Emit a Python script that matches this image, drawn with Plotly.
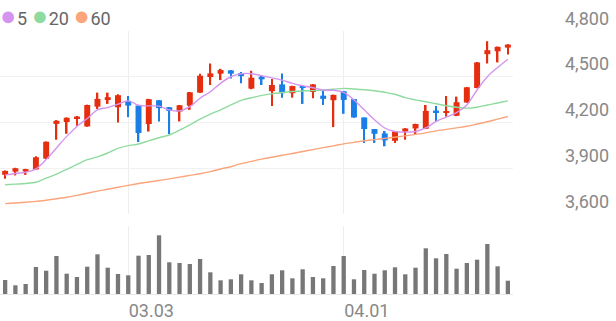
import plotly.graph_objects as go

dates = ["02.13","02.14","02.17","02.18","02.19","02.20","02.21","02.24","02.25","02.26",
         "02.27","02.28","03.03","03.04","03.05","03.06","03.07","03.10","03.11","03.12",
         "03.13","03.14","03.17","03.18","03.19","03.20","03.21","03.24","03.25","03.26",
         "03.27","03.28","03.31","04.01","04.02","04.03","04.04","04.07","04.08","04.09",
         "04.10","04.11","04.14","04.15","04.16","04.17","04.18","04.21","04.22","04.23"]

opens = [3857,3878,3879,3892,3963,4191,4203,4226,4174,4304,
         4353,4300,4342,4311,4190,4346,4300,4272,4311,4396,
         4498,4520,4542,4524,4422,4500,4405,4450,4392,4439,
         4400,4376,4346,4405,4353,4233,4157,4128,4080,4141,
         4161,4159,4278,4263,4244,4331,4426,4648,4667,4691]
closes = [3883,3900,3894,3972,4074,4211,4231,4239,4315,4355,
          4366,4379,4311,4131,4353,4294,4276,4313,4398,4507,
          4522,4544,4520,4504,4494,4483,4446,4392,4439,4431,
          4450,4355,4381,4348,4233,4157,4126,4083,4141,4161,
          4190,4276,4265,4272,4333,4431,4594,4674,4696,4711]
highs = [3885,3903,3896,3978,4076,4216,4233,4242,4317,4396,
         4396,4385,4374,4311,4355,4348,4302,4315,4400,4520,
         4587,4552,4544,4531,4539,4505,4485,4522,4441,4441,
         4452,4413,4383,4407,4353,4233,4157,4144,4143,4163,
         4192,4315,4309,4374,4370,4433,4596,4733,4698,4713]
lows = [3831,3853,3857,3890,3961,4087,4126,4179,4172,4289,
        4322,4200,4235,4072,4141,4207,4124,4207,4283,4394,
        4446,4478,4489,4457,4418,4446,4309,4363,4363,4322,
        4359,4315,4170,4257,4231,4066,4066,4044,4066,4087,
        4124,4157,4207,4239,4242,4329,4424,4587,4594,4646]

ma5 = [3855,3866,3874,3896,3957,4033,4109,4174,4226,4283,
       4298,4320,4342,4313,4309,4307,4283,4276,4304,4359,
       4402,4457,4500,4520,4520,4507,4493,4478,4457,4441,
       4428,4413,4411,4398,4348,4283,4218,4164,4141,4137,
       4141,4164,4207,4235,4265,4315,4413,4500,4561,4615]
ma20 = [3792,3796,3800,3808,3835,3862,3892,3925,3956,3975,
        4000,4030,4048,4059,4080,4100,4118,4150,4185,4222,
        4255,4283,4315,4345,4362,4378,4388,4397,4403,4407,
        4409,4413,4418,4424,4420,4415,4408,4398,4385,4363,
        4348,4336,4323,4310,4300,4294,4300,4315,4328,4342]
ma60 = [3668,3672,3677,3683,3690,3700,3710,3722,3736,3750,
        3762,3775,3788,3800,3810,3820,3830,3842,3853,3864,
        3878,3895,3910,3930,3945,3960,3972,3985,3997,4010,
        4022,4035,4047,4060,4070,4080,4088,4096,4104,4112,
        4122,4132,4145,4155,4165,4175,4190,4205,4222,4239]

volumes = [140,87,100,270,233,380,203,170,273,397,
           263,200,187,383,390,587,317,310,300,350,
           217,137,147,197,137,110,197,237,157,247,
           170,157,280,380,147,240,203,237,267,197,
           263,457,357,400,253,310,343,500,277,133]

price_ticks = [3600, 3900, 4200, 4500, 4800]
date_ticks = ["03.03", "04.01"]
legend_labels = ["5", "20", "60"]

UP = "#e52e10"
DOWN = "#1b7de6"
C5, C20, C60 = "#d494ef", "#8fdb9f", "#fba57c"

colors = [UP if c >= o else DOWN for o, c in zip(opens, closes)]
body_base = [min(o, c) for o, c in zip(opens, closes)]
body_h = [max(abs(c - o), 3) for o, c in zip(opens, closes)]
wick_h = [h - l for h, l in zip(highs, lows)]

fig = go.Figure()
fig.add_trace(go.Bar(x=dates, y=wick_h, base=lows, width=0.16, marker=dict(color=colors, line=dict(width=0)),
                     xaxis="x", yaxis="y", hoverinfo="skip"))
fig.add_trace(go.Bar(x=dates, y=body_h, base=body_base, width=0.58, marker=dict(color=colors, line=dict(width=0)),
                     xaxis="x", yaxis="y", hoverinfo="skip"))
fig.add_trace(go.Scatter(x=dates, y=ma60, mode="lines", line=dict(color=C60, width=1.4, shape="spline"), xaxis="x", yaxis="y"))
fig.add_trace(go.Scatter(x=dates, y=ma20, mode="lines", line=dict(color=C20, width=1.4, shape="spline"), xaxis="x", yaxis="y"))
fig.add_trace(go.Scatter(x=dates, y=ma5, mode="lines", line=dict(color=C5, width=1.4, shape="spline"), xaxis="x", yaxis="y"))
fig.add_trace(go.Bar(x=dates, y=volumes, width=0.42, marker=dict(color="#777777", line=dict(width=0)),
                     xaxis="x2", yaxis="y2"))

T, B = 31, 27
H = 321 - T - B
top_main = 1.0
bot_main = (294 - 214) / H
vol_top = (294 - 226) / H

dot = "<span style='font-size:27px;color:{}'>●</span>"
legend_text = " ".join(dot.format(c) + "<span style='font-size:3px'> </span>" + lab
                       for c, lab in zip([C5, C20, C60], legend_labels))

fig.update_layout(
    width=616, height=321,
    margin=dict(l=0, r=103, t=T, b=B),
    paper_bgcolor="white", plot_bgcolor="white",
    barmode="overlay", showlegend=False,
    font=dict(family="Roboto, sans-serif", color="#888888"),
    xaxis=dict(type="category", categoryorder="array", categoryarray=dates, range=[-0.5, 49.5],
               anchor="y", domain=[0, 1], tickmode="array", tickvals=date_ticks,
               showticklabels=False, showgrid=True, gridcolor="#eeeeee", gridwidth=1,
               zeroline=False, showline=False, ticks=""),
    xaxis2=dict(type="category", categoryorder="array", categoryarray=dates, range=[-0.5, 49.5],
                anchor="y2", matches="x", domain=[0, 1], tickmode="array", tickvals=date_ticks,
                ticktext=date_ticks, ticklabelposition="outside right",
                tickfont=dict(size=18, color="#888888"),
                showgrid=True, gridcolor="#eeeeee", gridwidth=1,
                zeroline=False, showline=True, linecolor="#e8e8e8", linewidth=1, ticks=""),
    yaxis=dict(domain=[bot_main, top_main], range=[3600, 4800], side="right",
               tickmode="array", tickvals=price_ticks, tickformat=",d",
               ticklabelposition="outside top", ticklabelstandoff=51, ticklabelshift=0,
               tickfont=dict(size=18, color="#888888"),
               showgrid=True, gridcolor="#f1f1f1", gridwidth=1, zeroline=False, showline=False, ticks=""),
    yaxis2=dict(domain=[0, vol_top], range=[0, 680], side="right", showticklabels=False,
                showgrid=False, zeroline=False, showline=False, ticks=""),
    annotations=[dict(
        xref="paper", yref="paper", x=0, y=1, yshift=T + 2, xanchor="left", yanchor="top",
        xshift=-2,
        text=legend_text,
        showarrow=False, font=dict(size=18, color="#666666", family="Roboto, sans-serif"))],
)

fig.write_html("out.html")
